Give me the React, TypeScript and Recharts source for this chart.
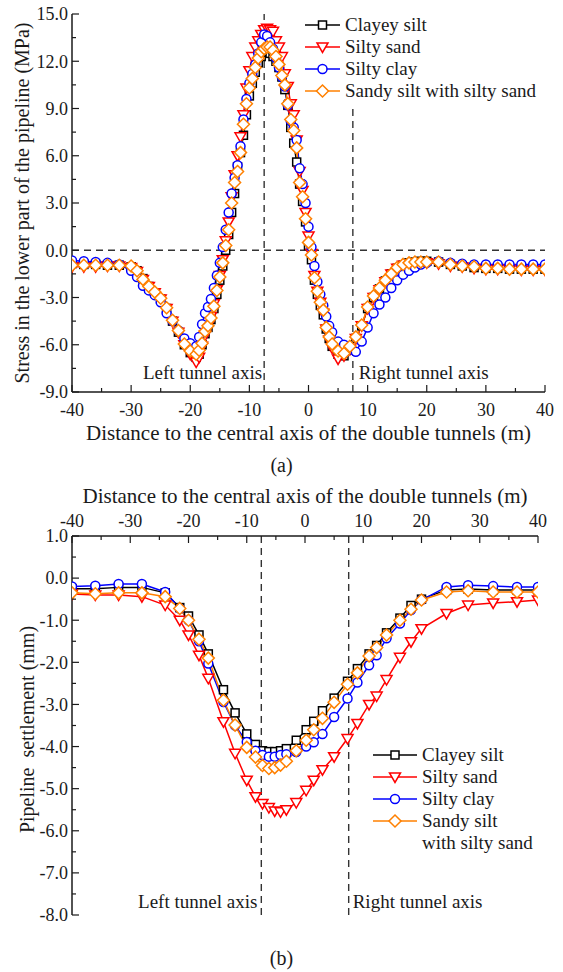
import React from "react";
import { LineChart, Line, XAxis, YAxis, ReferenceLine, Legend } from "recharts";

const FONT = '"Liberation Serif", "Times New Roman", serif';
const INK = "#1a1a1a";

// (a) stress in the lower part of the pipeline, MPa
const X_A = [
  -40, -38, -36, -34, -32, -30, -29, -28, -27, -26,
  -25, -24, -23, -22, -21, -20, -19, -18.5, -18, -17.5,
  -17, -16.5, -16, -15.5, -15, -14.5, -14, -13.5, -13, -12.5,
  -12, -11.5, -11, -10.5, -10, -9.5, -9, -8.5, -8, -7.5,
  -7, -6.5, -6, -5.5, -5, -4.5, -4, -3.5, -3, -2.5,
  -2, -1.5, -1, -0.5, 0, 0.5, 1, 1.5, 2, 2.5,
  3, 3.5, 4, 5, 6, 7, 8, 9, 10, 11,
  12, 13, 14, 15, 16, 17, 18, 19, 20, 22,
  24, 26, 28, 30, 32, 34, 36, 38, 40,
];
const CLAYEY_A = [
  -0.85, -0.9, -0.9, -0.95, -0.95, -1.05, -1.3, -1.8, -2.3, -2.7,
  -3.1, -3.7, -4.5, -5.2, -6.0, -6.5, -6.8, -6.6, -6.0, -5.3,
  -4.9, -4.4, -3.7, -2.8, -1.9, -1.0, 0.0, 1.0, 2.4, 3.6,
  5.3, 6.2, 7.3, 8.6, 9.8, 10.6, 11.3, 11.9, 12.3, 12.6,
  12.6, 12.5, 12.3, 12.0, 11.6, 11.0, 10.2, 9.2, 7.8, 6.8,
  5.6, 4.2, 3.1, 1.8, 0.3, -0.6, -1.9, -2.8, -3.5, -4.1,
  -5.0, -5.6, -6.1, -6.6, -6.7, -6.3, -5.6, -4.8, -3.7, -3.0,
  -2.45, -1.95, -1.5, -1.15, -0.95, -0.8, -0.75, -0.7, -0.7, -0.75,
  -0.9, -1.0, -1.1, -1.15, -1.15, -1.2, -1.2, -1.2, -1.2,
];
const SILTY_SAND_A = [
  -1.05, -1.05, -1.05, -1.0, -1.0, -1.1, -1.35, -1.85, -2.3, -2.7,
  -3.1, -3.7, -4.5, -5.2, -6.0, -6.6, -7.1, -6.8, -6.1, -5.4,
  -4.8, -4.2, -3.4, -2.5, -1.6, -0.6, 0.6, 1.8, 3.4, 4.8,
  6.0, 7.2, 8.6, 10.3, 11.4, 12.3, 12.9, 13.3, 13.7, 14.0,
  14.1, 14.0, 13.9, 13.3, 12.9, 12.3, 11.2, 10.4, 9.3, 8.6,
  7.0, 5.0, 3.8, 2.4, 0.9, -0.2, -1.6, -2.6, -3.3, -4.0,
  -5.0, -5.7, -6.2, -6.9, -6.7, -6.3, -5.6, -4.8, -3.7, -3.0,
  -2.5, -2.0, -1.5, -1.15, -0.95, -0.85, -0.8, -0.8, -0.8, -0.85,
  -1.0, -1.05, -1.15, -1.2, -1.2, -1.2, -1.25, -1.25, -1.25,
];
const SILTY_CLAY_A = [
  -0.65, -0.7, -0.75, -0.8, -0.9, -1.3, -1.7, -2.25, -2.55, -2.85,
  -3.3, -4.0, -4.5, -5.1, -5.6, -5.9, -6.1, -5.5, -4.7, -4.0,
  -3.6, -3.1, -2.4, -1.6, -0.8, 0.2, 1.3, 2.4, 3.6, 4.6,
  5.4, 6.6, 8.3, 9.6, 10.6, 11.2, 11.8, 12.5, 13.2, 13.7,
  13.6, 13.2, 12.8, 12.2, 11.6, 11.0, 10.4, 9.2, 8.2, 7.8,
  7.0, 5.2, 4.2, 3.0, 1.5, 0.2, -1.0, -2.0, -2.8, -3.5,
  -4.2, -4.8, -5.2, -5.8, -6.0, -6.3, -6.45, -5.8, -4.9, -4.0,
  -3.45, -3.0, -2.4, -1.9, -1.55, -1.3, -1.1, -0.9, -0.8, -0.7,
  -0.8, -0.85, -0.9, -0.9, -0.9, -0.9, -0.9, -0.9, -0.9,
];
const SANDY_A = [
  -0.95, -0.95, -0.95, -0.95, -0.95, -1.0, -1.3, -1.85, -2.3, -2.65,
  -3.05, -3.65, -4.45, -5.1, -5.95, -6.4, -6.6, -6.35, -5.9, -5.15,
  -4.8, -4.3, -3.55, -2.55, -1.7, -0.8, 0.3, 1.3, 3.0, 4.3,
  5.0, 6.2, 8.0, 9.3, 10.3, 10.9, 11.6, 12.2, 12.6, 12.8,
  12.9, 12.9, 12.7, 12.3, 11.8, 11.1, 10.5, 9.3, 8.3, 7.6,
  6.5, 4.3, 3.4, 2.0, 0.5, -0.3, -1.75, -2.6, -3.3, -3.8,
  -4.9, -5.5, -5.95, -6.4, -6.55, -6.1, -5.5, -4.75, -3.6, -2.9,
  -2.4, -1.9, -1.5, -1.1, -0.9, -0.8, -0.75, -0.75, -0.75, -0.75,
  -0.9, -1.0, -1.05, -1.15, -1.15, -1.2, -1.2, -1.2, -1.2,
];

// (b) pipeline settlement, mm
const X_B = [
  -40, -36, -32, -28, -24, -21.5, -20, -18.2, -16.6, -14,
  -12, -10, -8.5, -7.3, -6.2, -5.2, -4.2, -3.2, -1.5, 0.2,
  1.5, 3, 5, 7.3, 9, 11, 12.3, 14, 16.3, 18.2,
  20, 24.3, 28, 32.3, 36.4, 40,
];
const CLAYEY_B = [
  -0.25, -0.25, -0.22, -0.22, -0.35, -0.7, -0.9, -1.35, -1.8, -2.65,
  -3.2, -3.7, -3.95, -4.1, -4.12, -4.12, -4.1, -4.05, -3.85, -3.6,
  -3.4, -3.15, -2.85, -2.45, -2.15, -1.8, -1.6, -1.3, -0.95, -0.65,
  -0.5, -0.28, -0.26, -0.28, -0.28, -0.28,
];
const SILTY_SAND_B = [
  -0.38, -0.4, -0.4, -0.44, -0.64, -1.0, -1.35, -1.83, -2.38, -3.41,
  -4.16, -4.8, -5.19, -5.35, -5.45, -5.53, -5.55, -5.5, -5.33, -5.04,
  -4.8, -4.55, -4.24, -3.81, -3.45, -3.0, -2.8, -2.41, -1.88, -1.51,
  -1.2, -0.84, -0.64, -0.59, -0.56, -0.52,
];
const SILTY_CLAY_B = [
  -0.2, -0.18, -0.14, -0.14, -0.33, -0.72, -1.0, -1.5, -2.03, -2.94,
  -3.5, -3.89, -4.1, -4.2, -4.24, -4.24, -4.2, -4.18, -4.13, -4.0,
  -3.9, -3.7, -3.3, -2.86, -2.48, -2.07, -1.83, -1.43, -1.08, -0.76,
  -0.52, -0.21, -0.17, -0.19, -0.21, -0.21,
];
const SANDY_B = [
  -0.35, -0.37, -0.35, -0.35, -0.44, -0.72, -1.0, -1.45, -1.9, -2.9,
  -3.49, -4.02, -4.25, -4.45, -4.52, -4.5, -4.44, -4.35, -4.1, -3.85,
  -3.6, -3.33, -2.95, -2.52, -2.25, -1.85, -1.65, -1.35, -1.0, -0.74,
  -0.52, -0.33, -0.3, -0.33, -0.33, -0.33,
];

const X_TICKS = [-40, -35, -30, -25, -20, -15, -10, -5, 0, 5, 10, 15, 20, 25, 30, 35, 40];
const Y_TICKS_A = [-9, -7.5, -6, -4.5, -3, -1.5, 0, 1.5, 3, 4.5, 6, 7.5, 9, 10.5, 12, 13.5, 15];
const Y_TICKS_B = [-8, -7.5, -7, -6.5, -6, -5.5, -5, -4.5, -4, -3.5, -3, -2.5, -2, -1.5, -1, -0.5, 0, 0.5, 1];
const TUNNEL_AXES = [-7.5, 7.5];

const LEGEND_A = ["Clayey silt", "Silty sand", "Silty clay", "Sandy silt with silty sand"];
const LEGEND_B = ["Clayey silt", "Silty sand", "Silty clay", "Sandy silt\nwith silty sand"];

const X_TITLE = "Distance to the central axis of the double tunnels (m)";
const Y_TITLE_A = "Stress in the lower part of the pipeline (MPa)";
const Y_TITLE_B = "Pipeline  settlement (mm)";

const SERIES = [
  { key: "clayey", color: "#000000", marker: "square" },
  { key: "siltySand", color: "#ff0000", marker: "triangle" },
  { key: "siltyClay", color: "#0000ff", marker: "circle" },
  { key: "sandy", color: "#ff8000", marker: "diamond" },
];

const ROWS_A = X_A.map((x, i) => ({
  x,
  clayey: CLAYEY_A[i],
  siltySand: SILTY_SAND_A[i],
  siltyClay: SILTY_CLAY_A[i],
  sandy: SANDY_A[i],
}));
const ROWS_B = X_B.map((x, i) => ({
  x,
  clayey: CLAYEY_B[i],
  siltySand: SILTY_SAND_B[i],
  siltyClay: SILTY_CLAY_B[i],
  sandy: SANDY_B[i],
}));

function Marker({ kind, cx, cy, color }: any) {
  if (cx == null || cy == null || Number.isNaN(cx) || Number.isNaN(cy)) return null;
  const st = { fill: "#fff", stroke: color, strokeWidth: 1.5 };
  if (kind === "square") return <rect x={cx - 4} y={cy - 4} width={8} height={8} {...st} />;
  if (kind === "triangle")
    return <path d={`M${cx - 5.5},${cy - 4}L${cx + 5.5},${cy - 4}L${cx},${cy + 5.5}Z`} {...st} />;
  if (kind === "circle") return <circle cx={cx} cy={cy} r={4.5} {...st} />;
  return <path d={`M${cx},${cy - 6}L${cx + 6},${cy}L${cx},${cy + 6}L${cx - 6},${cy}Z`} {...st} />;
}

const isMajor = (v: number, step: number) => Math.abs(v / step - Math.round(v / step)) < 1e-6;

// inward ticks: tickSize is 0, so the axis line sits `gap` px from the label anchor
function LeftTick({ x, y, payload, step, gap }: any) {
  const v = payload.value;
  const major = isMajor(v, step);
  const ax = x + gap;
  return (
    <g>
      <line x1={ax} x2={ax + (major ? 7 : 4)} y1={y} y2={y} stroke={INK} strokeWidth={1.2} />
      {major && (
        <text x={x} y={y} dy="0.35em" textAnchor="end" fontFamily={FONT} fontSize={18} fill={INK}>
          {v.toFixed(1)}
        </text>
      )}
    </g>
  );
}

function BottomTick({ x, y, payload, gap }: any) {
  const v = payload.value;
  const major = isMajor(v, 10);
  const ay = y - gap;
  return (
    <g>
      <line x1={x} x2={x} y1={ay} y2={ay - (major ? 7 : 4)} stroke={INK} strokeWidth={1.2} />
      {major && (
        <text x={x} y={y} dy="0.71em" textAnchor="middle" fontFamily={FONT} fontSize={18} fill={INK}>
          {v}
        </text>
      )}
    </g>
  );
}

function TopTick({ x, y, payload, gap }: any) {
  const v = payload.value;
  const major = isMajor(v, 10);
  const ay = y + gap;
  return (
    <g>
      <line x1={x} x2={x} y1={ay} y2={ay + (major ? 7 : 4)} stroke={INK} strokeWidth={1.2} />
      {major && (
        <text x={x} y={y} textAnchor="middle" fontFamily={FONT} fontSize={18} fill={INK}>
          {v}
        </text>
      )}
    </g>
  );
}

const yTitle = (text: string, dx: number, dy: number) => (p: any) => {
  const vb = p.viewBox || { x: 0, y: 0, height: 0 };
  const cx = vb.x + dx;
  const cy = vb.y + vb.height / 2 + dy;
  return (
    <text
      x={cx}
      y={cy}
      dy="0.35em"
      transform={`rotate(-90 ${cx} ${cy})`}
      textAnchor="middle"
      fontFamily={FONT}
      fontSize={20}
      fill={INK}
      style={{ whiteSpace: "pre" }}
    >
      {text}
    </text>
  );
};

const xTitle = (text: string, baseline: number) => (p: any) => {
  const vb = p.viewBox || { x: 0, y: 0, width: 0 };
  return (
    <text x={vb.x + vb.width / 2} y={vb.y + baseline} textAnchor="middle" fontFamily={FONT} fontSize={21} fill={INK}>
      {text}
    </text>
  );
};

const axisNote = (text: string, dx: number, up: number) => (p: any) => {
  const vb = p.viewBox || { x: 0, y: 0, height: 0 };
  return (
    <text
      x={vb.x + dx}
      y={vb.y + vb.height - up}
      textAnchor={dx < 0 ? "end" : "start"}
      fontFamily={FONT}
      fontSize={19}
      fill={INK}
    >
      {text}
    </text>
  );
};

function LegendBox({ labels, lineLen }: any) {
  return (
    <div style={{ background: "#fff", fontFamily: FONT, fontSize: 19, lineHeight: "22px", color: INK, paddingBottom: 4 }}>
      {SERIES.map((s, i) => (
        <div key={s.key} style={{ display: "flex", alignItems: "flex-start" }}>
          <svg width={lineLen + 7} height={22} style={{ flex: "none", display: "block" }}>
            <line x1={2} x2={lineLen + 2} y1={11} y2={11} stroke={s.color} strokeWidth={1.5} />
            <Marker kind={s.marker} cx={lineLen / 2 + 2} cy={11} color={s.color} />
          </svg>
          <span style={{ whiteSpace: "pre-line" }}>{labels[i]}</span>
        </div>
      ))}
    </div>
  );
}

const frameLine = { stroke: INK, strokeWidth: 1.5 };
const dash = { stroke: "#333", strokeWidth: 1.4, strokeDasharray: "7 5" };

function seriesLines() {
  return SERIES.map((s) => (
    <Line
      key={s.key}
      type="linear"
      dataKey={s.key}
      stroke={s.color}
      strokeWidth={1.5}
      isAnimationActive={false}
      activeDot={false}
      dot={(p: any) => <Marker key={`${s.key}-${p.index}`} kind={s.marker} cx={p.cx} cy={p.cy} color={s.color} />}
    />
  ));
}

function StressChart() {
  return (
    <LineChart width={563} height={450} data={ROWS_A} margin={{ top: 14, right: 18, bottom: 0, left: 0 }}>
      <XAxis
        dataKey="x"
        type="number"
        domain={[-40, 40]}
        ticks={X_TICKS}
        interval={0}
        allowDataOverflow
        height={58}
        tickSize={0}
        tickMargin={11}
        tickLine={false}
        axisLine={frameLine}
        tick={(p: any) => <BottomTick {...p} gap={11} />}
        label={xTitle(X_TITLE, 48)}
      />
      <YAxis
        type="number"
        domain={[-9, 15]}
        ticks={Y_TICKS_A}
        interval={0}
        allowDataOverflow
        width={72}
        tickSize={0}
        tickMargin={4}
        tickLine={false}
        axisLine={frameLine}
        tick={(p: any) => <LeftTick {...p} step={3} gap={4} />}
        label={yTitle(Y_TITLE_A, 22, 0)}
      />
      <XAxis xAxisId="frame" orientation="top" type="number" domain={[-40, 40]} height={0} tick={false} tickLine={false} axisLine={frameLine} />
      <YAxis yAxisId="frame" orientation="right" type="number" domain={[-9, 15]} width={0} tick={false} tickLine={false} axisLine={frameLine} />
      <ReferenceLine y={0} {...dash} />
      <ReferenceLine x={TUNNEL_AXES[0]} {...dash} label={axisNote("Left tunnel axis", -2, 13)} />
      <ReferenceLine x={TUNNEL_AXES[1]} {...dash} label={axisNote("Right tunnel axis", 6, 13)} />
      {seriesLines()}
      <Legend
        layout="horizontal"
        align="center"
        verticalAlign="middle"
        width={240}
        wrapperStyle={{ left: 303, top: 14 }}
        content={() => <LegendBox labels={LEGEND_A} lineLen={35} />}
      />
    </LineChart>
  );
}

function SettlementChart() {
  return (
    <LineChart width={563} height={500} data={ROWS_B} margin={{ top: 0, right: 25, bottom: 57, left: 0 }}>
      <XAxis
        dataKey="x"
        orientation="top"
        type="number"
        domain={[-40, 40]}
        ticks={X_TICKS}
        interval={0}
        allowDataOverflow
        height={64}
        tickSize={0}
        tickMargin={9}
        tickLine={false}
        axisLine={frameLine}
        tick={(p: any) => <TopTick {...p} gap={9} />}
        label={xTitle(X_TITLE, 31)}
      />
      <YAxis
        type="number"
        domain={[-8, 1]}
        ticks={Y_TICKS_B}
        interval={0}
        allowDataOverflow
        width={72}
        tickSize={0}
        tickMargin={4}
        tickLine={false}
        axisLine={frameLine}
        tick={(p: any) => <LeftTick {...p} step={1} gap={4} />}
        label={yTitle(Y_TITLE_B, 27, 4)}
      />
      <XAxis xAxisId="frame" orientation="bottom" type="number" domain={[-40, 40]} height={0} tick={false} tickLine={false} axisLine={frameLine} />
      <YAxis yAxisId="frame" orientation="right" type="number" domain={[-8, 1]} width={0} tick={false} tickLine={false} axisLine={frameLine} />
      <ReferenceLine x={TUNNEL_AXES[0]} {...dash} label={axisNote("Left tunnel axis", -4, 7)} />
      <ReferenceLine x={TUNNEL_AXES[1]} {...dash} label={axisNote("Right tunnel axis", 4, 7)} />
      {seriesLines()}
      <Legend
        layout="horizontal"
        align="center"
        verticalAlign="middle"
        width={170}
        wrapperStyle={{ left: 371, top: 272 }}
        content={() => <LegendBox labels={LEGEND_B} lineLen={44} />}
      />
    </LineChart>
  );
}

const caption = (top: number): React.CSSProperties => ({
  position: "absolute",
  left: 0,
  top,
  width: 563,
  textAlign: "center",
  fontFamily: FONT,
  fontSize: 20,
  lineHeight: "22px",
  color: INK,
});

export default function App() {
  return (
    <div style={{ position: "absolute", left: 0, top: 0, width: 563, height: 972, background: "#fff" }}>
      <div style={{ position: "absolute", left: 0, top: 0 }}>
        <StressChart />
      </div>
      <div style={caption(454)}>(a)</div>
      <div style={{ position: "absolute", left: 0, top: 472 }}>
        <SettlementChart />
      </div>
      <div style={caption(947)}>(b)</div>
    </div>
  );
}
